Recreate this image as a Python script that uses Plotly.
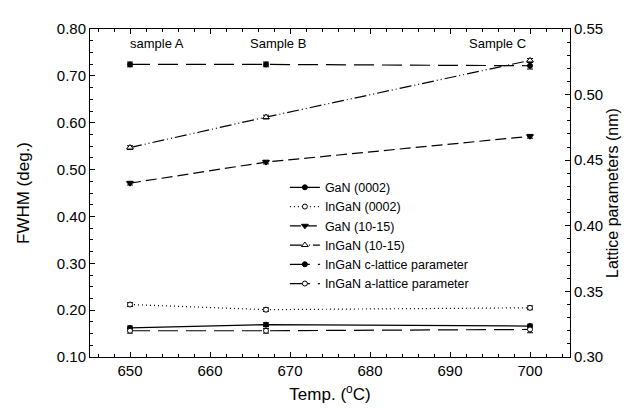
import plotly.graph_objects as go

temps = [650, 667, 700]
gan_0002 = [0.162, 0.169, 0.166]
ingan_0002 = [0.212, 0.201, 0.205]
gan_1015 = [0.471, 0.516, 0.571]
ingan_1015 = [0.547, 0.612, 0.733]
ingan_c = [0.523, 0.523, 0.522]
ingan_a = [0.320, 0.320, 0.321]

err_fwhm = [0.004, 0.004, 0.004]
err_lat = [0.0018, 0.0018, 0.0025]

sample_labels = ["sample A", "Sample B", "Sample C"]
sample_x = [653.4, 668.5, 695.9]
sample_y = 0.77

FONT = "Liberation Sans, Arial, sans-serif"

fig = go.Figure()

def add(name, y, dash, symbol, fill, yaxis="y", err=None, size=5):
    fig.add_trace(go.Scatter(
        x=temps, y=y, name=name, mode="lines+markers", yaxis=yaxis,
        line=dict(color="black", width=1.2, dash=dash),
        marker=dict(symbol=symbol, size=size, color=fill,
                    line=dict(color="black", width=1)),
        error_y=dict(type="data", array=err, visible=True,
                     color="black", thickness=1, width=3),
    ))

add("GaN (0002)", gan_0002, "solid", "circle", "black", err=err_fwhm)
add("InGaN (0002)", ingan_0002, "1px,3px", "circle", "white", err=err_fwhm)
add("GaN (10-15)", gan_1015, "11px,5px", "triangle-down", "black", err=err_fwhm, size=6)
add("InGaN (10-15)", ingan_1015, "12px,3px,1px,3px,1px,3px", "triangle-up", "white", err=err_fwhm, size=6)
add("InGaN c-lattice parameter", ingan_c, "20px,8px", "circle", "black", yaxis="y2", err=err_lat)
add("InGaN a-lattice parameter", ingan_a, "20px,8px", "circle", "white", yaxis="y2", err=err_lat)

for lab, sx in zip(sample_labels, sample_x):
    fig.add_annotation(x=sx, y=sample_y, xref="x", yref="y", text=lab,
                       showarrow=False, font=dict(family=FONT, size=13, color="black"))

axis_common = dict(showline=True, linecolor="black", linewidth=1, ticks="inside",
                   ticklen=5, tickcolor="black", showgrid=False, zeroline=False,
                   tickfont=dict(family=FONT, size=15, color="black"))

fig.update_layout(
    width=630, height=410,
    margin=dict(l=82, r=68, t=19, b=61),
    paper_bgcolor="white", plot_bgcolor="white",
    font=dict(family=FONT, color="black"),
    showlegend=True,
    legend=dict(x=0.406, y=0.562, xanchor="left", yanchor="top",
                bgcolor="rgba(0,0,0,0)", borderwidth=0, tracegroupgap=0,
                font=dict(family=FONT, size=12.5, color="black")),
    xaxis=dict(range=[645, 705], dtick=10, mirror="ticks",
               minor=dict(dtick=2, ticks="inside", ticklen=3, tickcolor="black"),
               title=dict(text="Temp. (<sup>o</sup>C)", font=dict(family=FONT, size=17, color="black"), standoff=10),
               **axis_common),
    yaxis=dict(range=[0.1, 0.8], dtick=0.1, tickformat=".2f",
               minor=dict(dtick=0.025, ticks="inside", ticklen=3, tickcolor="black"),
               title=dict(text="FWHM (deg.)", font=dict(family=FONT, size=17, color="black"), standoff=22),
               **axis_common),
    yaxis2=dict(range=[0.30, 0.55], dtick=0.05, tickformat=".2f", overlaying="y", side="right",
                minor=dict(dtick=0.01, ticks="inside", ticklen=3, tickcolor="black"),
                title=dict(text="Lattice parameters (nm)", font=dict(family=FONT, size=16, color="black"), standoff=4),
                **axis_common),
)

fig.write_html("out.html")
